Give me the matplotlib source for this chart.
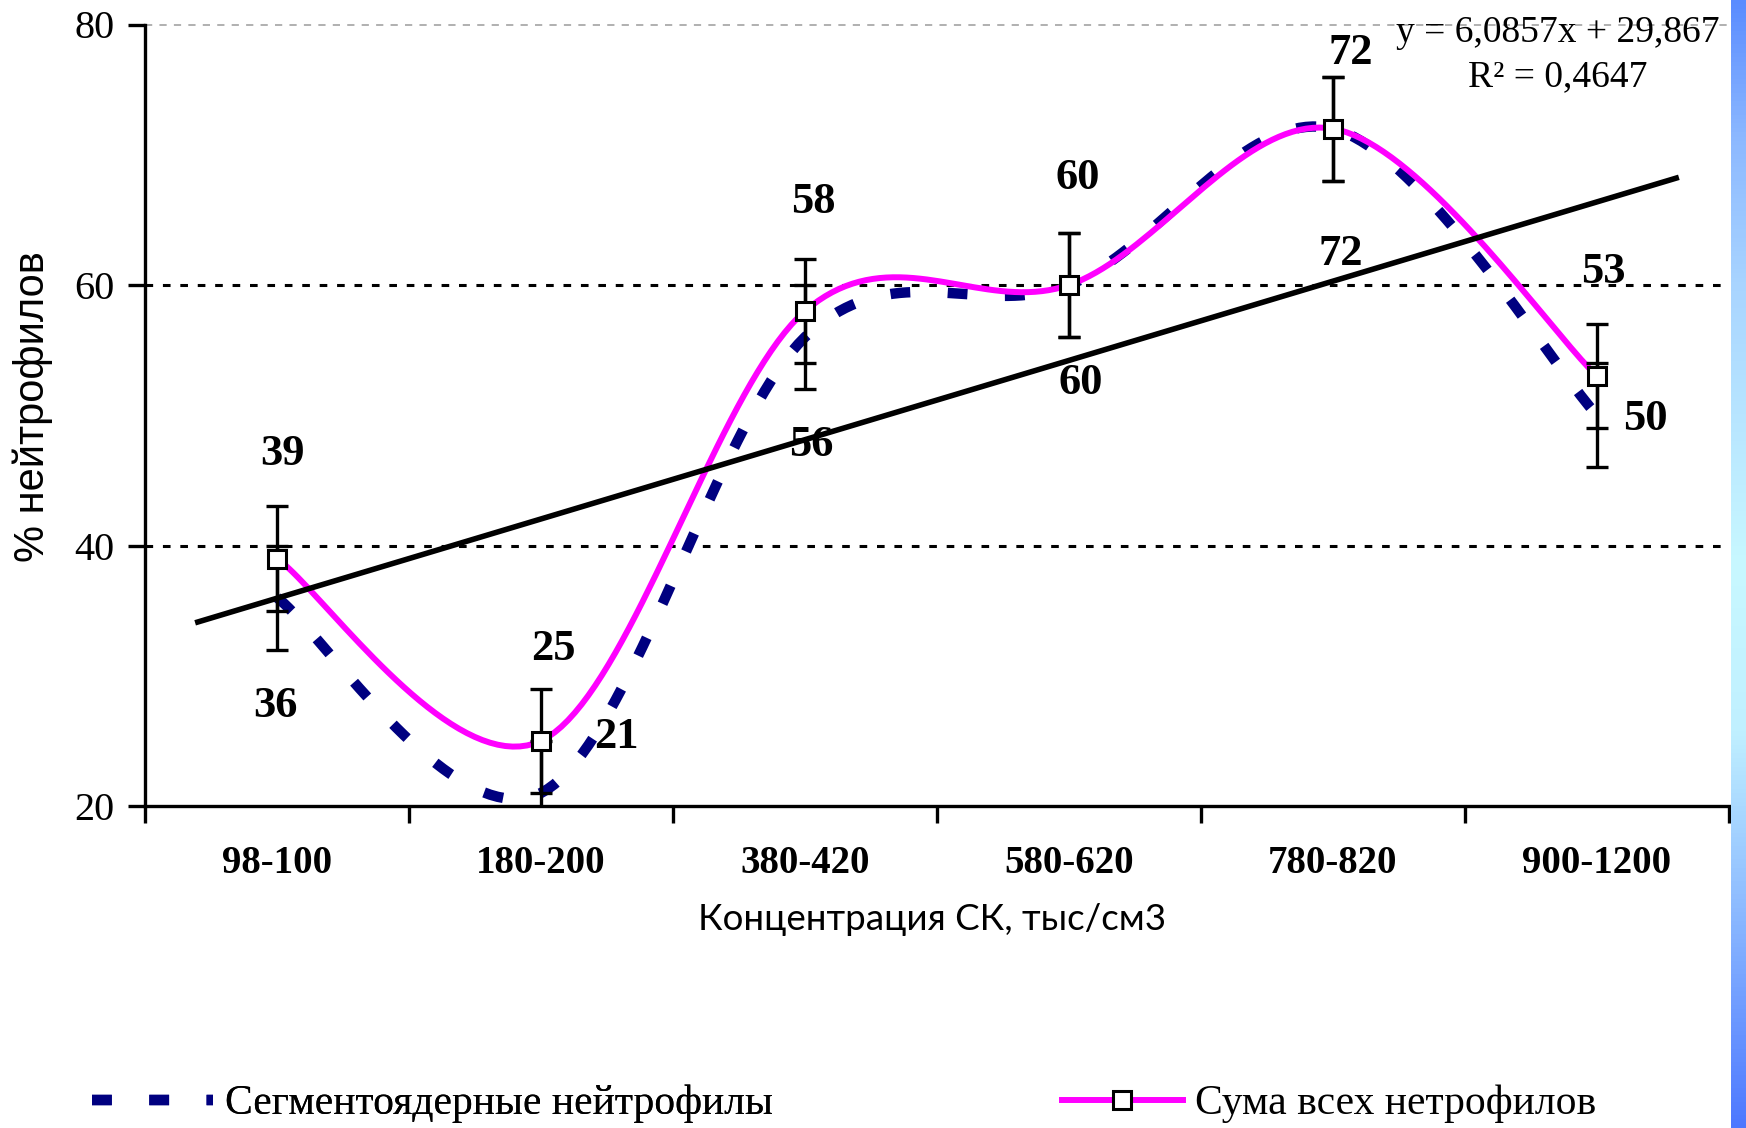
import numpy as np
import matplotlib
matplotlib.use('Agg')
import matplotlib.pyplot as plt
from matplotlib import font_manager
from matplotlib.colors import LinearSegmentedColormap
from matplotlib.lines import Line2D

# data
categories = ['98-100', '180-200', '380-420', '580-620', '780-820', '900-1200']
segment = [36, 21, 56, 60, 72, 50]   # Сегментоядерные нейтрофилы
total = [39, 25, 58, 60, 72, 53]     # Сума всех нетрофилов
err_segment = [4, 4, 4, 4, 4, 4]
err_total = [4, 4, 4, 4, 4, 4]
yticks = [20, 40, 60, 80]

# label offsets (pixels) for the value labels
off_total = [(5, 105), (12, 92), (8, 109), (9, 107), (18, 76), (6, 104)]
off_segment = [(-2, -108), (75, 56), (6, -108), (12, -98), (8, -125), (48, -4)]

SERIF = 'Liberation Serif'
names = {f.name for f in font_manager.fontManager.ttflist}
NARROW = 'Liberation Sans Narrow' if 'Liberation Sans Narrow' in names else 'Liberation Sans'
NAVY = '#000080'
MAGENTA = '#FF00FF'


def smooth(xs, ys, n=40):
    # excel style smoothed line (catmull-rom as bezier)
    p = np.column_stack([xs, ys]).astype(float)
    out = []
    for i in range(len(p) - 1):
        p0 = p[i - 1] if i > 0 else p[i]
        p3 = p[i + 2] if i + 2 < len(p) else p[i + 1]
        c1 = p[i] + (p[i + 1] - p0) / 6
        c2 = p[i + 1] - (p3 - p[i]) / 6
        t = np.linspace(0, 1, n)[:, None]
        seg = (1 - t)**3 * p[i] + 3 * (1 - t)**2 * t * c1 + 3 * (1 - t) * t**2 * c2 + t**3 * p[i + 1]
        out.append(seg if i == 0 else seg[1:])
    out = np.vstack(out)
    return out[:, 0], out[:, 1]


fig = plt.figure(figsize=(17.46, 11.28), dpi=100)
ax = fig.add_axes([145 / 1746, 1 - 806 / 1128, (1729 - 145) / 1746, (806 - 24.5) / 1128])
ax.set_xlim(-0.5, 5.5)
ax.set_ylim(20, 80)

x = np.arange(len(categories))

# gridlines
for v in [40, 60]:
    ax.axhline(v, color='black', lw=2.2, ls=(0, (2.5, 3.2)), zorder=1)
ax.axhline(80, color='#aaaaaa', lw=1.3, ls=(0, (4, 4)), zorder=1, clip_on=False)

# smoothed series
sx, sy = smooth(x, segment)
ax.plot(sx, sy, color=NAVY, lw=7.5, dashes=(1.9, 3.6), dash_capstyle='butt', zorder=3)
tx, ty = smooth(x, total)
ax.plot(tx, ty, color=MAGENTA, lw=4.3, zorder=4)

# linear trend of the total series
coef = np.polyfit(x + 1, total, 1)
fit = np.polyval(coef, x + 1)
r2 = 1 - np.sum((np.array(total) - fit)**2) / np.sum((np.array(total) - np.mean(total))**2)
xt = np.array([-0.3, 5.3])
ax.plot(xt, np.polyval(coef, xt + 1), color='black', lw=4.0, zorder=5)

# error bars
ax.errorbar(x, segment, yerr=err_segment, fmt='none', ecolor='black', elinewidth=2.4,
            capsize=8, capthick=2.4, zorder=6)
ax.errorbar(x, total, yerr=err_total, fmt='none', ecolor='black', elinewidth=2.4,
            capsize=8, capthick=2.4, zorder=6)
ax.plot(x, total, ls='none', marker='s', ms=12.5, mfc='white', mec='black', mew=2.2, zorder=7)

# value labels
for i in range(len(x)):
    ax.annotate(str(total[i]), (x[i], total[i]), xytext=off_total[i], textcoords='offset pixels',
                ha='center', va='center', fontsize=32, fontweight='bold', family=SERIF, zorder=8)
    ax.annotate(str(segment[i]), (x[i], segment[i]), xytext=off_segment[i], textcoords='offset pixels',
                ha='center', va='center', fontsize=32, fontweight='bold', family=SERIF, zorder=8)

# equation
eq = 'y = {:.4f}x + {:.3f}'.format(coef[0], coef[1]).replace('.', ',')
fig.text(1558 / 1746, 1 - 33 / 1128, eq, ha='center', va='center', fontsize=27, family=SERIF)
fig.text(1558 / 1746, 1 - 77 / 1128, 'R² = {:.4f}'.format(r2).replace('.', ','),
         ha='center', va='center', fontsize=27, family=SERIF)

# axes styling
for s in ['top', 'right']:
    ax.spines[s].set_visible(False)
for s in ['left', 'bottom']:
    ax.spines[s].set_linewidth(2.4)
ax.set_yticks(yticks)
ax.set_yticklabels([str(v) for v in yticks], family=SERIF, fontsize=29)
ax.tick_params(axis='y', length=12, width=2.4, direction='out', pad=10)
ax.set_xticks(x)
ax.set_xticklabels(categories, family=SERIF, fontsize=28, fontweight='bold')
ax.tick_params(axis='x', which='major', length=0, pad=28)
ax.set_xticks(np.arange(-0.5, 6, 1), minor=True)
ax.tick_params(axis='x', which='minor', length=12, width=2.4, direction='out')

fig.text(33 / 1746, 1 - 407 / 1128, '% нейтрофилов', rotation=90, ha='center', va='center',
         fontsize=30, family=NARROW)
fig.text(932 / 1746, 1 - 919 / 1128, 'Концентрация СК, тыс/см3', ha='center', va='center',
         fontsize=26.5, family='Lato')

# legend, two entries placed apart
h1 = Line2D([], [], color=NAVY, lw=7.5, dashes=(1.9, 3.6), dash_capstyle='butt')
h2 = Line2D([], [], color=MAGENTA, lw=4.3, marker='s', ms=12.5, mfc='white', mec='black', mew=2.2)
lp = dict(frameon=False, loc='center left', prop={'family': SERIF, 'size': 30},
          handlelength=2.9, handletextpad=0.3, borderpad=0, borderaxespad=0)
leg1 = fig.legend([h1], ['Сегментоядерные нейтрофилы'], bbox_to_anchor=(92 / 1746, 1 - 1104 / 1128), **lp)
fig.add_artist(leg1)
fig.legend([h2], ['Сума всех нетрофилов'], bbox_to_anchor=(1062 / 1746, 1 - 1104 / 1128), **lp)

# blue gradient strip on the right edge
cmap = LinearSegmentedColormap.from_list('edge', [(0, '#5a8cff'), (0.12, '#8cb8ff'),
                                                  (0.25, '#a8d4ff'), (0.5, '#c8f8ff'),
                                                  (0.65, '#c0f0ff'), (1, '#4d78ff')])
sax = fig.add_axes([1731 / 1746, 0, 15 / 1746, 1])
sax.imshow(np.linspace(0, 1, 256)[:, None], aspect='auto', cmap=cmap)
sax.axis('off')

fig.savefig('out.png', dpi=100)
